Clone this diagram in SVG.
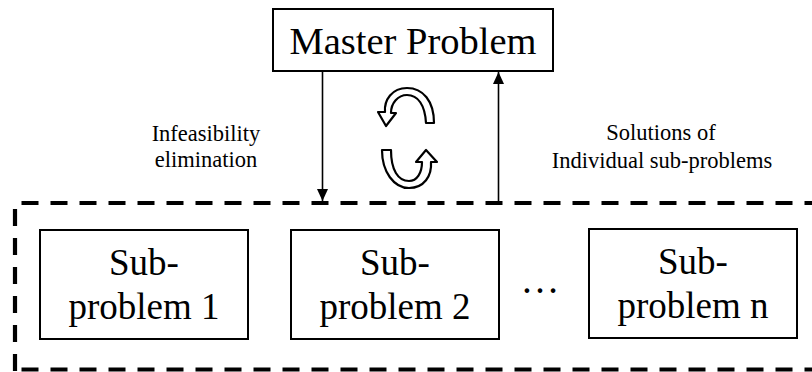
<svg xmlns="http://www.w3.org/2000/svg" width="812" height="372" viewBox="0 0 812 372">
  <style>
    .box { fill: #ffffff; stroke: #000000; stroke-width: 2; }
    .big { font-family: "Liberation Serif", "Times New Roman", serif; font-size: 37px; fill: #000000; text-anchor: middle; }
    .title { font-family: "Liberation Serif", "Times New Roman", serif; font-size: 38.5px; fill: #000000; text-anchor: middle; }
    .label { font-family: "Liberation Serif", "Times New Roman", serif; font-size: 22.5px; fill: #000000; text-anchor: middle; }
    .edge { fill: none; stroke: #000000; stroke-width: 1.6; }
    .dash { stroke: #000000; stroke-width: 4.2; stroke-dasharray: 17 12; fill: none; }
    .cycle { fill: #ffffff; stroke: #000000; stroke-width: 2.2; stroke-linejoin: round; }
  </style>
  <defs>
    <marker id="head" viewBox="0 0 12 11" refX="12" refY="5.5" markerWidth="12" markerHeight="11" markerUnits="userSpaceOnUse" orient="auto">
      <path d="M0,0 L12,5.5 L0,11 Z" fill="#000000"/>
    </marker>
  </defs>

  <!-- dashed boundary around the sub-problems (right side runs past the edge) -->
  <g id="subproblem-group">
    <line class="dash" x1="21.5" y1="203" x2="830" y2="203"/>
    <line class="dash" x1="15" y1="209" x2="15" y2="372"/>
    <line class="dash" x1="21.5" y1="369.5" x2="830" y2="369.5"/>
  </g>

  <!-- connectors -->
  <g id="connectors">
    <line class="edge" x1="322.5" y1="71" x2="322.5" y2="201" marker-end="url(#head)"/>
    <line class="edge" x1="498.5" y1="203" x2="498.5" y2="72" marker-end="url(#head)"/>
  </g>

  <!-- iteration symbol between master and sub-problems -->
  <g id="cycle">
    <path class="cycle" d="M 434,123 C 434,101 423,88 407,88 C 392,88 384,100 385,112 L 378,112 L 386,126 L 396,113 L 391,113 C 391,103 398,95 407,95 C 418,95 425,105 426,123 Z"/>
    <path class="cycle" d="M 382,150 C 382,172 394,188 409,188 C 424,188 432,176 431,162 L 437,162 L 426,150 L 416,162 L 422,162 C 422,173 417,181 409,181 C 398,181 391,170 391,150 Z"/>
  </g>

  <g id="master">
    <rect class="box" x="273" y="9" width="280" height="62"/>
    <text class="title" x="413" y="54">Master Problem</text>
  </g>

  <g id="label-infeasibility">
    <text class="label" x="206" y="140.5">Infeasibility</text>
    <text class="label" x="206" y="167">elimination</text>
  </g>

  <g id="label-solutions">
    <text class="label" x="661" y="140">Solutions of</text>
    <text class="label" x="662" y="167.5">Individual sub-problems</text>
  </g>

  <g id="sub1">
    <rect class="box" x="40" y="230" width="208" height="109"/>
    <text class="big" x="144" y="275">Sub-</text>
    <text class="big" x="144" y="319">problem 1</text>
  </g>

  <g id="sub2">
    <rect class="box" x="291" y="230" width="208" height="109"/>
    <text class="big" x="395" y="275">Sub-</text>
    <text class="big" x="395" y="319">problem 2</text>
  </g>

  <g id="ellipsis">
    <text class="big" x="540" y="293" style="font-size:39px">…</text>
  </g>

  <g id="subn">
    <rect class="box" x="589" y="229" width="208" height="109"/>
    <text class="big" x="693" y="274">Sub-</text>
    <text class="big" x="693" y="318">problem n</text>
  </g>
</svg>
